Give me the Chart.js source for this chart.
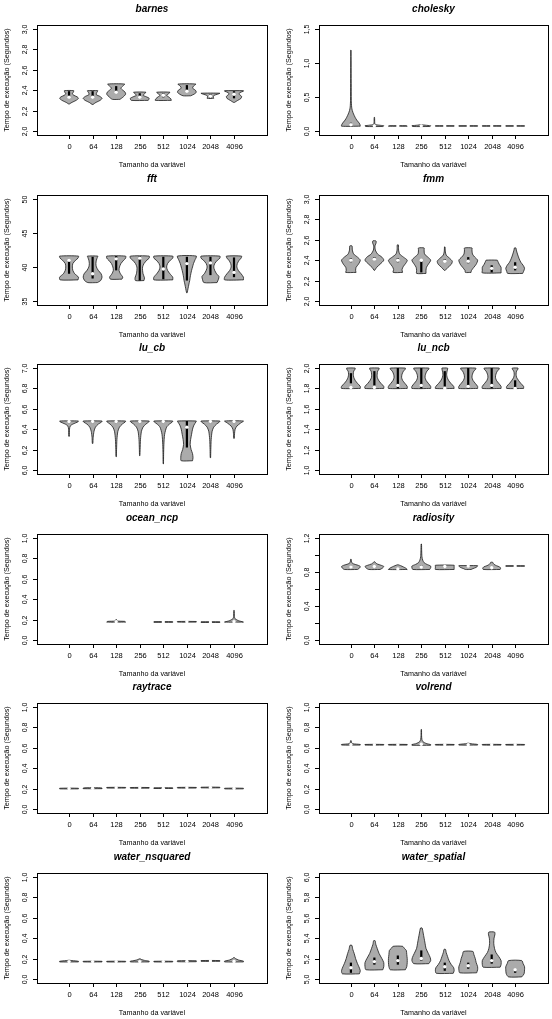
<!DOCTYPE html>
<html>
<head>
<meta charset="utf-8">
<script src="https://cdn.jsdelivr.net/npm/chart.js@4.4.1/dist/chart.umd.min.js"></script>
<style>
  body { margin: 0; background: #fff; width: 552px; height: 1019px; position: relative; overflow: hidden; }
  canvas { position: absolute; }
</style>
</head>
<body>
<div id="charts"></div>
<script>
// categories (variable size) shared by every panel
const categories = ['0', '64', '128', '256', '512', '1024', '2048', '4096'];
const xTitle = 'Tamanho da variável';
const yTitle = 'Tempo de execução (Segundos)';

// violin shapes: per category a list of [value, relative half width]
// boxes: per category [q1, q3, median]
const barnesTicks = [2.0, 2.2, 2.4, 2.6, 2.8, 3.0];
const barnesLabels = ['2,0', '2,2', '2,4', '2,6', '2,8', '3,0'];
const barnesShapes = [
  [[2.265,0.05],[2.28,0.3],[2.30,0.75],[2.32,1.0],[2.335,0.85],[2.35,0.5],[2.365,0.35],[2.38,0.45],[2.395,0.5]],
  [[2.26,0.05],[2.28,0.35],[2.30,0.8],[2.32,1.0],[2.34,0.75],[2.355,0.4],[2.37,0.4],[2.385,0.5],[2.395,0.55]],
  [[2.31,0.4],[2.33,0.7],[2.36,1.0],[2.38,0.95],[2.40,0.7],[2.42,0.5],[2.44,0.7],[2.46,0.9]],
  [[2.30,0.9],[2.32,1.0],[2.335,0.7],[2.35,0.35],[2.365,0.5],[2.38,0.65]],
  [[2.30,0.85],[2.315,0.8],[2.335,0.55],[2.35,0.35],[2.365,0.55],[2.38,0.7]],
  [[2.345,0.4],[2.36,0.75],[2.38,1.0],[2.40,0.9],[2.42,0.6],[2.44,0.7],[2.46,0.95]],
  [[2.32,0.35],[2.335,0.3],[2.35,0.4],[2.36,0.75],[2.37,1.0]],
  [[2.28,0.05],[2.30,0.4],[2.32,0.75],[2.34,0.8],[2.36,0.55],[2.375,0.6],[2.39,1.0],[2.395,1.0]]
];
const barnesBoxes = [[2.32,2.39,2.33],[2.32,2.39,2.33],[2.37,2.44,2.38],[2.32,2.37,2.33],[2.33,2.37,2.35],[2.38,2.45,2.39],[2.32,2.36,2.34],[2.32,2.39,2.36]];

const choleskyTicks = [0.0, 0.5, 1.0, 1.5];
const choleskyLabels = ['0,0', '0,5', '1,0', '1,5'];
const choleskyShapes = [
  [[0.07,1.0],[0.10,0.95],[0.13,0.8],[0.16,0.62],[0.2,0.45],[0.25,0.28],[0.3,0.15],[0.35,0.08],[0.45,0.04],[0.7,0.03],[1.0,0.02],[1.19,0.01]],
  [[0.065,0.9],[0.075,1.0],[0.085,0.5],[0.095,0.1],[0.12,0.04],[0.2,0.02]],
  [[0.07,1.0],[0.076,0.9]],
  [[0.065,0.9],[0.075,1.0],[0.085,0.4],[0.09,0.1]],
  [[0.07,1.0],[0.076,1.0]],
  [[0.07,1.0],[0.076,1.0]],
  [[0.07,1.0],[0.076,1.0]],
  [[0.07,1.0],[0.076,1.0]]
];
const choleskyBoxes = [[0.07,0.12,0.09],[0.07,0.08,0.075],[0.071,0.075,0.073],[0.07,0.08,0.075],[0.071,0.075,0.073],[0.071,0.075,0.073],[0.071,0.075,0.073],[0.071,0.075,0.073]];

const fftTicks = [35, 40, 45, 50];
const fftLabels = ['35', '40', '45', '50'];
const fftShapes = [
  [[38.1,0.95],[38.5,1.0],[39.0,0.6],[39.5,0.4],[40.0,0.35],[40.5,0.4],[41.0,0.7],[41.3,0.95],[41.6,1.0]],
  [[37.7,0.5],[38.0,0.85],[38.5,1.0],[39.0,0.9],[39.5,0.6],[40.0,0.4],[40.5,0.35],[41.0,0.4],[41.4,0.5],[41.6,0.55]],
  [[38.2,0.6],[38.5,0.7],[39.0,0.45],[39.5,0.3],[40.0,0.35],[40.5,0.5],[41.0,0.8],[41.3,1.0],[41.6,1.0]],
  [[38.0,0.45],[38.4,0.5],[39.0,0.35],[39.5,0.3],[40.0,0.3],[40.5,0.45],[41.0,0.75],[41.3,1.0],[41.6,1.0]],
  [[38.1,1.0],[38.5,1.0],[39.0,0.7],[39.5,0.45],[40.0,0.35],[40.5,0.45],[41.0,0.75],[41.3,1.0],[41.6,1.0]],
  [[36.2,0.03],[36.8,0.12],[37.5,0.22],[38.0,0.3],[38.5,0.35],[39.0,0.42],[39.5,0.5],[40.0,0.6],[40.5,0.7],[41.0,0.85],[41.6,1.0]],
  [[37.7,0.7],[38.2,0.85],[38.6,0.9],[39.0,0.65],[39.5,0.45],[40.0,0.35],[40.5,0.45],[41.0,0.75],[41.3,1.0],[41.6,1.0]],
  [[38.1,1.0],[38.5,1.0],[39.0,0.75],[39.5,0.45],[40.0,0.3],[40.5,0.35],[41.0,0.55],[41.3,0.75],[41.6,0.8]]
];
const fftBoxes = [[39.0,41.2,41.0],[38.3,41.5,39.0],[39.5,41.6,41.2],[38.0,41.6,41.3],[38.2,41.5,39.7],[38.0,41.5,40.5],[38.8,41.5,40.6],[38.5,41.4,39.2]];

const fmmTicks = [2.0, 2.2, 2.4, 2.6, 2.8, 3.0];
const fmmLabels = ['2,0', '2,2', '2,4', '2,6', '2,8', '3,0'];
const fmmShapes = [
  [[2.28,0.55],[2.30,0.5],[2.33,0.55],[2.36,0.8],[2.40,1.0],[2.43,0.7],[2.46,0.3],[2.50,0.15],[2.54,0.12]],
  [[2.30,0.03],[2.33,0.25],[2.36,0.6],[2.40,1.0],[2.43,0.8],[2.46,0.35],[2.50,0.1],[2.54,0.06],[2.56,0.15],[2.58,0.2],[2.59,0.15]],
  [[2.28,0.5],[2.31,0.45],[2.34,0.6],[2.37,0.85],[2.40,1.0],[2.43,0.6],[2.46,0.2],[2.50,0.08],[2.55,0.06]],
  [[2.27,0.5],[2.30,0.5],[2.33,0.55],[2.36,0.75],[2.40,1.0],[2.43,0.7],[2.46,0.35],[2.50,0.3],[2.52,0.3]],
  [[2.30,0.05],[2.33,0.35],[2.36,0.7],[2.39,0.8],[2.42,0.5],[2.45,0.15],[2.49,0.05],[2.53,0.03]],
  [[2.28,0.3],[2.30,0.35],[2.33,0.6],[2.36,0.85],[2.40,1.0],[2.43,0.7],[2.46,0.45],[2.50,0.4],[2.52,0.4]],
  [[2.275,1.0],[2.30,1.0],[2.33,1.0],[2.36,0.8],[2.39,0.65],[2.40,0.6]],
  [[2.27,0.8],[2.29,0.9],[2.32,1.0],[2.35,0.85],[2.38,0.6],[2.42,0.4],[2.46,0.25],[2.50,0.12],[2.52,0.08]]
];
const fmmBoxes = [[2.38,2.42,2.40],[2.40,2.43,2.41],[2.38,2.42,2.40],[2.28,2.39,2.40],[2.38,2.41,2.39],[2.37,2.43,2.39],[2.28,2.35,2.32],[2.30,2.38,2.33]];

const luCbTicks = [6.0, 6.2, 6.4, 6.6, 6.8, 7.0];
const luCbLabels = ['6,0', '6,2', '6,4', '6,6', '6,8', '7,0'];
const luCbShapes = [
  [[6.33,0.03],[6.40,0.05],[6.43,0.12],[6.45,0.4],[6.47,0.9],[6.48,1.0]],
  [[6.26,0.03],[6.32,0.06],[6.38,0.15],[6.42,0.3],[6.45,0.6],[6.47,0.95],[6.48,1.0]],
  [[6.13,0.02],[6.2,0.04],[6.3,0.08],[6.38,0.18],[6.42,0.35],[6.45,0.65],[6.47,0.95],[6.48,1.0]],
  [[6.14,0.02],[6.2,0.04],[6.3,0.08],[6.38,0.18],[6.42,0.35],[6.45,0.65],[6.47,0.95],[6.48,1.0]],
  [[6.06,0.02],[6.15,0.03],[6.25,0.06],[6.35,0.14],[6.42,0.35],[6.45,0.65],[6.47,0.95],[6.48,1.0]],
  [[6.09,0.6],[6.12,0.65],[6.16,0.6],[6.2,0.45],[6.25,0.35],[6.3,0.4],[6.35,0.5],[6.40,0.6],[6.44,0.75],[6.47,0.95],[6.48,1.0]],
  [[6.12,0.02],[6.2,0.04],[6.3,0.08],[6.38,0.18],[6.42,0.35],[6.45,0.65],[6.47,0.95],[6.48,1.0]],
  [[6.31,0.03],[6.36,0.06],[6.40,0.12],[6.43,0.3],[6.46,0.7],[6.48,1.0]]
];
const luCbBoxes = [[6.46,6.48,6.475],[6.46,6.48,6.475],[6.46,6.48,6.475],[6.46,6.48,6.475],[6.46,6.48,6.475],[6.22,6.48,6.42],[6.46,6.48,6.475],[6.46,6.48,6.475]];

const luNcbTicks = [1.0, 1.2, 1.4, 1.6, 1.8, 2.0];
const luNcbLabels = ['1,0', '1,2', '1,4', '1,6', '1,8', '2,0'];
const luNcbShapes = [
  [[1.80,1.0],[1.82,1.0],[1.85,0.7],[1.88,0.45],[1.91,0.3],[1.94,0.25],[1.97,0.3],[1.99,0.45],[2.0,0.45]],
  [[1.80,1.0],[1.82,1.0],[1.85,0.7],[1.88,0.45],[1.91,0.3],[1.94,0.3],[1.97,0.35],[1.99,0.5],[2.0,0.5]],
  [[1.80,1.0],[1.82,1.0],[1.85,0.75],[1.88,0.5],[1.91,0.4],[1.94,0.45],[1.97,0.6],[1.99,0.8],[2.0,0.8]],
  [[1.80,1.0],[1.82,1.0],[1.85,0.75],[1.88,0.5],[1.91,0.4],[1.94,0.45],[1.97,0.6],[1.99,0.8],[2.0,0.8]],
  [[1.80,1.0],[1.82,0.95],[1.85,0.65],[1.88,0.4],[1.91,0.25],[1.94,0.2],[1.97,0.25],[1.99,0.3],[2.0,0.3]],
  [[1.80,1.0],[1.82,1.0],[1.85,0.75],[1.88,0.5],[1.91,0.4],[1.94,0.45],[1.97,0.6],[1.99,0.8],[2.0,0.8]],
  [[1.80,1.0],[1.82,1.0],[1.85,0.75],[1.88,0.5],[1.91,0.4],[1.94,0.45],[1.97,0.6],[1.99,0.8],[2.0,0.8]],
  [[1.80,0.9],[1.82,0.9],[1.85,0.6],[1.88,0.35],[1.91,0.15],[1.94,0.1],[1.97,0.15],[1.99,0.3],[2.0,0.3]]
];
const luNcbBoxes = [[1.85,1.95,1.81],[1.83,1.97,1.81],[1.80,2.0,1.83],[1.80,2.0,1.83],[1.82,1.97,1.80],[1.80,2.0,1.82],[1.80,2.0,1.83],[1.81,1.88,1.80]];

const unitTicks = [0.0, 0.2, 0.4, 0.6, 0.8, 1.0];
const unitLabels = ['0,0', '0,2', '0,4', '0,6', '0,8', '1,0'];

const oceanShapes = [
  null,
  null,
  [[0.175,1.0],[0.182,0.9],[0.186,0.1],[0.2,0.03]],
  null,
  [[0.173,1.0],[0.179,1.0]],
  [[0.175,1.0],[0.181,1.0]],
  [[0.172,1.0],[0.178,1.0]],
  [[0.175,1.0],[0.183,0.7],[0.19,0.45],[0.2,0.25],[0.21,0.1],[0.23,0.04],[0.29,0.02]]
];
const oceanBoxes = [null, null, [0.177,0.18,0.178], null, [0.175,0.177,0.176], [0.177,0.179,0.178], [0.174,0.176,0.175], [0.177,0.182,0.179]];

const radiosityTicks = [0.0, 0.2, 0.4, 0.6, 0.8, 1.0, 1.2];
const radiosityLabels = ['0,0', '', '0,4', '', '0,8', '', '1,2'];
const radiosityShapes = [
  [[0.83,0.7],[0.845,0.9],[0.865,1.0],[0.88,0.75],[0.895,0.3],[0.91,0.1],[0.93,0.05],[0.95,0.03]],
  [[0.83,0.6],[0.845,0.85],[0.865,1.0],[0.88,0.7],[0.895,0.3],[0.91,0.12],[0.92,0.05]],
  [[0.83,1.0],[0.845,0.85],[0.86,0.6],[0.875,0.3],[0.885,0.05]],
  [[0.83,0.9],[0.85,1.0],[0.87,1.0],[0.89,0.6],[0.91,0.3],[0.94,0.15],[0.98,0.07],[1.05,0.04],[1.13,0.02]],
  [[0.83,1.0],[0.85,1.0],[0.865,1.0],[0.88,1.0]],
  [[0.83,0.3],[0.84,0.5],[0.855,0.85],[0.87,1.0],[0.875,1.0]],
  [[0.83,0.9],[0.845,0.95],[0.86,0.85],[0.875,0.5],[0.89,0.25],[0.905,0.15],[0.915,0.1]],
  [[0.868,1.0],[0.874,1.0]]
];
const radiosityBoxes = [[0.845,0.875,0.86],[0.85,0.875,0.865],[0.83,0.84,0.835],[0.85,0.88,0.86],[0.85,0.875,0.865],[0.865,0.875,0.87],[0.84,0.86,0.85],[0.869,0.873,0.871]];

const raytraceShapes = [
  [[0.197,1.0],[0.203,1.0]],
  [[0.199,1.0],[0.205,1.0],[0.208,0.6]],
  [[0.205,1.0],[0.211,1.0]],
  [[0.204,1.0],[0.210,1.0]],
  [[0.201,1.0],[0.207,1.0]],
  [[0.205,1.0],[0.211,1.0]],
  [[0.207,1.0],[0.213,1.0]],
  [[0.197,1.0],[0.203,1.0]]
];
const raytraceBoxes = [[0.199,0.201,0.200],[0.201,0.205,0.203],[0.207,0.209,0.208],[0.206,0.208,0.207],[0.203,0.205,0.204],[0.207,0.209,0.208],[0.209,0.211,0.210],[0.199,0.201,0.200]];

const volrendShapes = [
  [[0.627,1.0],[0.633,1.0],[0.64,0.2],[0.65,0.08],[0.67,0.03]],
  [[0.627,1.0],[0.633,1.0]],
  [[0.627,1.0],[0.633,1.0]],
  [[0.625,1.0],[0.632,1.0],[0.64,0.6],[0.65,0.35],[0.66,0.18],[0.68,0.07],[0.72,0.03],[0.78,0.02]],
  [[0.627,1.0],[0.633,1.0]],
  [[0.627,1.0],[0.633,1.0],[0.64,0.3],[0.645,0.05]],
  [[0.627,1.0],[0.633,1.0]],
  [[0.627,1.0],[0.633,1.0]]
];
const volrendBoxes = [[0.628,0.632,0.630],[0.628,0.632,0.630],[0.628,0.632,0.630],[0.628,0.64,0.635],[0.628,0.632,0.630],[0.628,0.632,0.630],[0.628,0.632,0.630],[0.628,0.632,0.630]];

const nsquaredShapes = [
  [[0.167,1.0],[0.173,1.0],[0.18,0.3],[0.183,0.05]],
  [[0.167,1.0],[0.173,1.0]],
  [[0.167,1.0],[0.173,1.0]],
  [[0.167,1.0],[0.174,1.0],[0.182,0.5],[0.19,0.2],[0.197,0.05]],
  [[0.167,1.0],[0.173,1.0]],
  [[0.169,1.0],[0.178,1.0]],
  [[0.173,1.0],[0.18,1.0]],
  [[0.167,1.0],[0.175,1.0],[0.185,0.5],[0.2,0.15],[0.21,0.03]]
];
const nsquaredBoxes = [[0.169,0.171,0.170],[0.169,0.171,0.170],[0.169,0.171,0.170],[0.169,0.172,0.170],[0.169,0.171,0.170],[0.172,0.175,0.173],[0.175,0.178,0.176],[0.169,0.173,0.171]];

const spatialTicks = [5.0, 5.2, 5.4, 5.6, 5.8, 6.0];
const spatialLabels = ['5,0', '5,2', '5,4', '5,6', '5,8', '6,0'];
const spatialShapes = [
  [[5.05,0.9],[5.08,1.0],[5.12,0.85],[5.15,0.7],[5.2,0.5],[5.25,0.35],[5.29,0.2],[5.33,0.1]],
  [[5.09,0.9],[5.12,1.0],[5.16,1.0],[5.2,0.8],[5.25,0.5],[5.3,0.3],[5.34,0.15],[5.375,0.08]],
  [[5.09,0.8],[5.12,0.95],[5.16,1.0],[5.2,1.0],[5.24,0.95],[5.28,0.9],[5.30,0.7],[5.32,0.5]],
  [[5.15,0.8],[5.18,1.0],[5.21,0.95],[5.25,0.75],[5.3,0.5],[5.35,0.4],[5.40,0.3],[5.45,0.2],[5.50,0.08]],
  [[5.055,0.9],[5.08,1.0],[5.11,0.95],[5.14,0.7],[5.18,0.45],[5.22,0.3],[5.26,0.15],[5.29,0.08]],
  [[5.06,0.9],[5.09,1.0],[5.12,1.0],[5.16,0.85],[5.2,0.75],[5.24,0.6],[5.27,0.5]],
  [[5.115,0.9],[5.14,1.0],[5.18,1.0],[5.22,0.75],[5.26,0.45],[5.3,0.3],[5.35,0.22],[5.40,0.25],[5.44,0.35],[5.46,0.3]],
  [[5.02,0.7],[5.05,0.95],[5.09,1.0],[5.12,1.0],[5.15,0.85],[5.18,0.7]]
];
const spatialBoxes = [[5.06,5.16,5.11],[5.14,5.21,5.17],[5.14,5.23,5.18],[5.18,5.28,5.20],[5.08,5.16,5.12],[5.10,5.16,5.13],[5.15,5.24,5.18],[5.06,5.10,5.09]];

const panels = [
  {title: 'barnes', ticks: barnesTicks, labels: barnesLabels, shapes: barnesShapes, boxes: barnesBoxes},
  {title: 'cholesky', ticks: choleskyTicks, labels: choleskyLabels, shapes: choleskyShapes, boxes: choleskyBoxes},
  {title: 'fft', ticks: fftTicks, labels: fftLabels, shapes: fftShapes, boxes: fftBoxes},
  {title: 'fmm', ticks: fmmTicks, labels: fmmLabels, shapes: fmmShapes, boxes: fmmBoxes},
  {title: 'lu_cb', ticks: luCbTicks, labels: luCbLabels, shapes: luCbShapes, boxes: luCbBoxes},
  {title: 'lu_ncb', ticks: luNcbTicks, labels: luNcbLabels, shapes: luNcbShapes, boxes: luNcbBoxes},
  {title: 'ocean_ncp', ticks: unitTicks, labels: unitLabels, shapes: oceanShapes, boxes: oceanBoxes},
  {title: 'radiosity', ticks: radiosityTicks, labels: radiosityLabels, shapes: radiosityShapes, boxes: radiosityBoxes},
  {title: 'raytrace', ticks: unitTicks, labels: unitLabels, shapes: raytraceShapes, boxes: raytraceBoxes},
  {title: 'volrend', ticks: unitTicks, labels: unitLabels, shapes: volrendShapes, boxes: volrendBoxes},
  {title: 'water_nsquared', ticks: unitTicks, labels: unitLabels, shapes: nsquaredShapes, boxes: nsquaredBoxes},
  {title: 'water_spatial', ticks: spatialTicks, labels: spatialLabels, shapes: spatialShapes, boxes: spatialBoxes}
];

const HALF = 0.4;          // max half width of a violin, in category units
const FONT = '"Liberation Sans", Arial, sans-serif';

// R style frame, tick marks, rotated labels and titles
const rAxes = {
  id: 'rAxes',
  afterDraw(chart, args, opts) {
    const {ctx, chartArea: a} = chart;
    const x = chart.scales.x, y = chart.scales.y;
    const cx = (a.left + a.right) / 2, cy = (a.top + a.bottom) / 2;
    ctx.save();
    ctx.strokeStyle = '#000';
    ctx.fillStyle = '#000';
    ctx.lineWidth = 1;
    ctx.strokeRect(Math.round(a.left) + 0.5, Math.round(a.top) + 0.5, Math.round(a.right - a.left), Math.round(a.bottom - a.top));

    ctx.font = '7.5px ' + FONT;
    ctx.textAlign = 'center';
    ctx.textBaseline = 'middle';
    categories.forEach((c, i) => {
      const px = Math.round(x.getPixelForValue(i)) + 0.5;
      ctx.beginPath();
      ctx.moveTo(px, a.bottom);
      ctx.lineTo(px, a.bottom + 4);
      ctx.stroke();
      ctx.fillText(c, px, a.bottom + 12);
    });

    ctx.font = '7px ' + FONT;
    opts.ticks.forEach((v, i) => {
      const py = Math.round(y.getPixelForValue(v)) + 0.5;
      ctx.beginPath();
      ctx.moveTo(a.left - 4, py);
      ctx.lineTo(a.left, py);
      ctx.stroke();
      if (opts.labels[i]) {
        ctx.save();
        ctx.translate(a.left - 12, py);
        ctx.rotate(-Math.PI / 2);
        ctx.fillText(opts.labels[i], 0, 0);
        ctx.restore();
      }
    });

    ctx.font = '7.2px ' + FONT;
    ctx.fillText(xTitle, cx, a.bottom + 30);
    ctx.save();
    ctx.translate(a.left - 30, cy);
    ctx.rotate(-Math.PI / 2);
    ctx.fillText(yTitle, 0, 0);
    ctx.restore();

    ctx.font = 'italic bold 10px ' + FONT;
    ctx.fillText(opts.title, cx, a.top - 16);
    ctx.restore();
  }
};

function violinPoints(shape, i) {
  const right = shape.map(p => ({x: i + p[1] * HALF, y: p[0]}));
  const left = shape.slice().reverse().map(p => ({x: i - p[1] * HALF, y: p[0]}));
  return right.concat(left, [right[0]]);
}

function createChart(panel, index) {
  const col = index % 2;
  const row = Math.floor(index / 2);
  const canvas = document.createElement('canvas');
  canvas.width = 276;
  canvas.height = 170;
  canvas.style.left = (col * 276) + 'px';
  canvas.style.top = Math.round(row * 169.5) + 'px';
  document.getElementById('charts').appendChild(canvas);

  const lo = panel.ticks[0];
  const hi = panel.ticks[panel.ticks.length - 1];
  const pad = (hi - lo) * 0.04;

  const datasets = [];
  const medians = [];
  panel.shapes.forEach((shape, i) => {
    if (!shape) return;
    datasets.push({
      data: violinPoints(shape, i),
      borderColor: '#1a1a1a',
      borderWidth: 0.8,
      backgroundColor: '#ababab',
      fill: 'shape',
      pointRadius: 0,
      tension: 0.25,
      order: 3
    });
  });
  panel.boxes.forEach((b, i) => {
    if (!b) return;
    datasets.push({
      data: [{x: i, y: b[0]}, {x: i, y: b[1]}],
      borderColor: '#000',
      borderWidth: 2.2,
      borderCapStyle: 'butt',
      pointRadius: 0,
      fill: false,
      order: 2
    });
    medians.push({x: i, y: b[2]});
  });
  datasets.push({
    data: medians,
    showLine: false,
    pointRadius: 1.7,
    pointBackgroundColor: '#fff',
    pointBorderWidth: 0,
    pointBorderColor: '#fff',
    fill: false,
    order: 1
  });

  new Chart(canvas.getContext('2d'), {
    type: 'line',
    data: {datasets: datasets},
    options: {
      responsive: false,
      animation: false,
      devicePixelRatio: 1,
      events: [],
      layout: {padding: col === 0 ? {left: 37, right: 9, top: 25, bottom: 35} : {left: 43, right: 3, top: 25, bottom: 35}},
      scales: {
        x: {type: 'linear', min: -1.36, max: 8.4, display: false},
        y: {type: 'linear', min: lo - pad, max: hi + pad, display: false}
      },
      plugins: {
        legend: {display: false},
        tooltip: {enabled: false},
        rAxes: {title: panel.title, ticks: panel.ticks, labels: panel.labels}
      }
    },
    plugins: [rAxes]
  });
}

panels.forEach(createChart);
</script>
</body>
</html>
